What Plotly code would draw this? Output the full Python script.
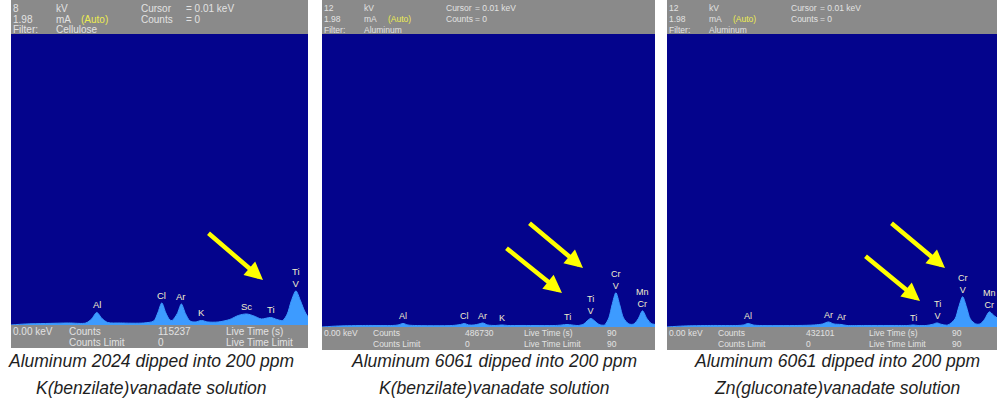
import plotly.graph_objects as go

# ---------------- data ----------------
# Panel 1: Aluminum 2024, K(benzilate)vanadate, 8 kV, cellulose filter
p1_energy = [0.00, 0.25, 0.60, 1.00, 1.30, 1.40, 1.49, 1.58, 1.68, 1.90, 2.30, 2.48, 2.55, 2.62, 2.69,
             2.76, 2.80, 2.89, 2.96, 3.03, 3.11, 3.20, 3.31, 3.42, 3.60, 3.80, 3.95, 4.09, 4.22, 4.35,
             4.51, 4.62, 4.72, 4.80, 4.87, 4.95, 5.03, 5.10, 5.16]
p1_counts = [0, 10, 15, 20, 20, 60, 125, 65, 25, 20, 20, 40, 120, 220, 120,
             50, 45, 115, 210, 115, 40, 30, 45, 30, 30, 55, 95, 110, 90, 60,
             75, 55, 45, 110, 240, 340, 240, 140, 80]
p1_labels = ["Al", "Cl", "Ar", "K", "Sc", "Ti", "Ti<br>V"]
p1_label_energy = [1.49, 2.62, 2.96, 3.31, 4.09, 4.51, 4.95]

# Panel 2: Aluminum 6061, K(benzilate)vanadate, 12 kV
p2_energy = [0.00, 0.30, 0.80, 1.30, 1.40, 1.49, 1.58, 1.70, 2.40, 2.55, 2.62, 2.70, 2.80, 2.89, 2.96,
             3.05, 3.20, 3.31, 3.42, 3.70, 4.30, 4.42, 4.51, 4.60, 4.72, 4.82, 4.88, 4.95, 5.02, 5.10,
             5.20, 5.28, 5.34, 5.41, 5.48, 5.55, 5.65, 5.74, 5.82, 5.90, 5.98, 6.06, 6.13]
p2_counts = [0, 10, 15, 15, 20, 35, 20, 15, 15, 25, 35, 20, 20, 30, 40,
             20, 15, 20, 15, 15, 15, 20, 25, 20, 15, 30, 60, 85, 60, 25,
             20, 90, 220, 340, 220, 90, 30, 30, 80, 160, 85, 35, 25]
p2_labels = ["Al", "Cl", "Ar", "K", "Ti", "Ti<br>V", "Cr<br>V", "Mn<br>Cr"]
p2_label_energy = [1.49, 2.62, 2.96, 3.31, 4.51, 4.95, 5.41, 5.90]

# Panel 3: Aluminum 6061, Zn(gluconate)vanadate, 12 kV
p3_energy = [0.00, 0.30, 0.80, 1.30, 1.40, 1.49, 1.58, 1.70, 2.40, 2.70, 2.85, 2.96, 3.06, 3.19, 3.30,
             3.60, 4.30, 4.42, 4.51, 4.60, 4.75, 4.86, 4.95, 5.04, 5.15, 5.28, 5.35, 5.42, 5.49, 5.56,
             5.66, 5.74, 5.82, 5.91, 5.98, 6.05]
p3_counts = [0, 10, 15, 15, 20, 35, 20, 15, 15, 20, 30, 50, 30, 25, 15,
             15, 15, 15, 20, 15, 15, 25, 40, 25, 20, 80, 200, 300, 200, 80,
             30, 30, 75, 150, 120, 90]
p3_labels = ["Al", "Ar", "Ar", "Ti", "Ti<br>V", "Cr<br>V", "Mn<br>Cr"]
p3_label_energy = [1.49, 2.96, 3.19, 4.51, 4.95, 5.42, 5.91]

kv_values = ["8", "12", "12"]
ma_values = ["1.98", "1.98", "1.98"]
filter_names = ["Cellulose", "Aluminum", "Aluminum"]
total_counts = ["115237", "486730", "432101"]
counts_limit = ["0", "0", "0"]
live_time = ["", "90", "90"]
live_time_limit = ["", "90", "90"]
captions_line1 = ["Aluminum 2024 dipped into 200 ppm",
                  "Aluminum 6061 dipped into 200 ppm",
                  "Aluminum 6061 dipped into 200 ppm"]
captions_line2 = ["K(benzilate)vanadate solution",
                  "K(benzilate)vanadate solution",
                  "Zn(gluconate)vanadate solution"]

# ---------------- layout geometry (pixels) ----------------
W, H = 997, 404
panels = [
    dict(left=11, right=308, top=34, bottom=325, fbot=348, xmax=5.16, font=10, lab=9.5,
         hdr=[1, 44, 69, 129, 174], ftr=[1, 57, 146, 214, 999], cap=151),
    dict(left=322, right=655, top=34, bottom=327, fbot=350, xmax=6.13, font=8.5, lab=9,
         hdr=[1, 41, 65, 123, 152], ftr=[1, 50, 142, 201, 284], cap=494),
    dict(left=667, right=997, top=34, bottom=327, fbot=350, xmax=6.05, font=8.5, lab=9,
         hdr=[1, 41, 65, 123, 152], ftr=[1, 50, 138, 201, 284], cap=837),
]
energies = [p1_energy, p2_energy, p3_energy]
counts = [p1_counts, p2_counts, p3_counts]
labels = [p1_labels, p2_labels, p3_labels]
label_e = [p1_label_energy, p2_label_energy, p3_label_energy]

BLUE = "#04048c"
FILL = "#3d9bff"
GRAY = "#8a8a8a"
TXT = "#e2e2e2"
YEL = "#ecec50"
LBL = "#f2eecc"
FONT = "Liberation Sans, Arial, sans-serif"

def px(x):
    return x / W

def py(y):
    return 1 - y / H

fig = go.Figure()
shapes = []
annotations = []
layout_axes = {}

for i, p in enumerate(panels):
    n = "" if i == 0 else str(i + 1)
    xa, ya = "x" + n, "y" + n
    fig.add_trace(go.Scatter(
        x=energies[i], y=counts[i], xaxis=xa, yaxis=ya, mode="lines",
        line=dict(color=FILL, width=1, shape="spline", smoothing=0.8),
        fill="tozeroy", fillcolor=FILL, hoverinfo="skip", showlegend=False))
    layout_axes["xaxis" + n] = dict(domain=[px(p["left"]), px(p["right"])], range=[0, p["xmax"]],
                                   visible=False, fixedrange=True, anchor=ya)
    layout_axes["yaxis" + n] = dict(domain=[py(p["bottom"]), py(p["top"])], range=[0, 2900],
                                   visible=False, fixedrange=True, anchor=xa)
    shapes.append(dict(type="rect", xref="paper", yref="paper", x0=px(p["left"]), x1=px(p["right"]),
                       y0=py(p["top"]), y1=1, fillcolor=GRAY, line=dict(width=0)))
    shapes.append(dict(type="rect", xref="paper", yref="paper", x0=px(p["left"]), x1=px(p["right"]),
                       y0=py(p["fbot"]), y1=py(p["bottom"]), fillcolor=GRAY, line=dict(width=0)))

    fs = p["font"]
    L = p["left"]
    h = p["hdr"]

    def txt(t, x, y, color=TXT, size=fs):
        annotations.append(dict(text=t, x=px(L + x), y=py(y), xref="paper", yref="paper",
                                xanchor="left", yanchor="middle", showarrow=False, borderpad=0,
                                font=dict(family=FONT, size=size, color=color)))
    # header rows
    txt(kv_values[i], h[0], 8); txt("kV", h[1], 8)
    txt("Cursor", h[3], 8); txt("= 0.01 keV", h[4], 8)
    txt(ma_values[i], h[0], 19); txt("mA", h[1], 19); txt("(Auto)", h[2], 19, YEL)
    txt("Counts", h[3], 19); txt("= 0", h[4], 19)
    txt("Filter:", h[0], 30); txt(filter_names[i], h[1], 30)
    # footer rows
    f = p["ftr"]
    y1 = p["bottom"] + 6
    y2 = p["bottom"] + 17
    txt("0.00 keV", f[0], y1)
    txt("Counts", f[1], y1); txt("Counts Limit", f[1], y2)
    txt(total_counts[i], f[2], y1); txt(counts_limit[i], f[2], y2)
    txt("Live Time (s)", f[3], y1); txt("Live Time Limit", f[3], y2)
    if live_time[i]:
        txt(live_time[i], f[4], y1); txt(live_time_limit[i], f[4], y2)

    # peak labels
    for lab, e in zip(labels[i], label_e[i]):
        near = [c for ee, c in zip(energies[i], counts[i]) if abs(ee - e) <= 0.05]
        top = max(near) if near else 0
        annotations.append(dict(text=lab, x=e, y=top, xref=xa, yref=ya, xanchor="center",
                                yanchor="bottom", yshift=1, showarrow=False, borderpad=0,
                                font=dict(family=FONT, size=p["lab"], color=LBL)))

    # caption (two lines)
    for line, yy in ((captions_line1[i], 361), (captions_line2[i], 388)):
        annotations.append(dict(text=line, x=px(p["cap"]), y=py(yy), xref="paper", yref="paper",
                                xanchor="center", yanchor="middle", showarrow=False, borderpad=0,
                                font=dict(family=FONT, size=17.5, color="#1e1e1e", style="italic")))

# yellow arrows (head, tail) in pixels
arrows = [((263, 280), (207, 232)),
          ((583, 268), (528, 222)), ((562, 293), (505, 247)),
          ((945, 268), (890, 222)), ((920, 301), (864, 255))]
for (hx, hy), (tx, ty) in arrows:
    annotations.append(dict(text="", x=px(hx), y=py(hy), xref="paper", yref="paper",
                            ax=tx - hx, ay=ty - hy, showarrow=True, arrowhead=2, arrowsize=0.8,
                            arrowwidth=4.5, arrowcolor="#ffff00", standoff=0, startstandoff=0))

fig.update_layout(width=W, height=H, margin=dict(l=0, r=0, t=0, b=0),
                  paper_bgcolor="white", plot_bgcolor=BLUE,
                  shapes=shapes, annotations=annotations, showlegend=False, **layout_axes)

fig.write_html("out.html", config=dict(displayModeBar=False, staticPlot=True),
               post_script="document.body.style.margin='0';document.body.style.overflow='hidden';")
